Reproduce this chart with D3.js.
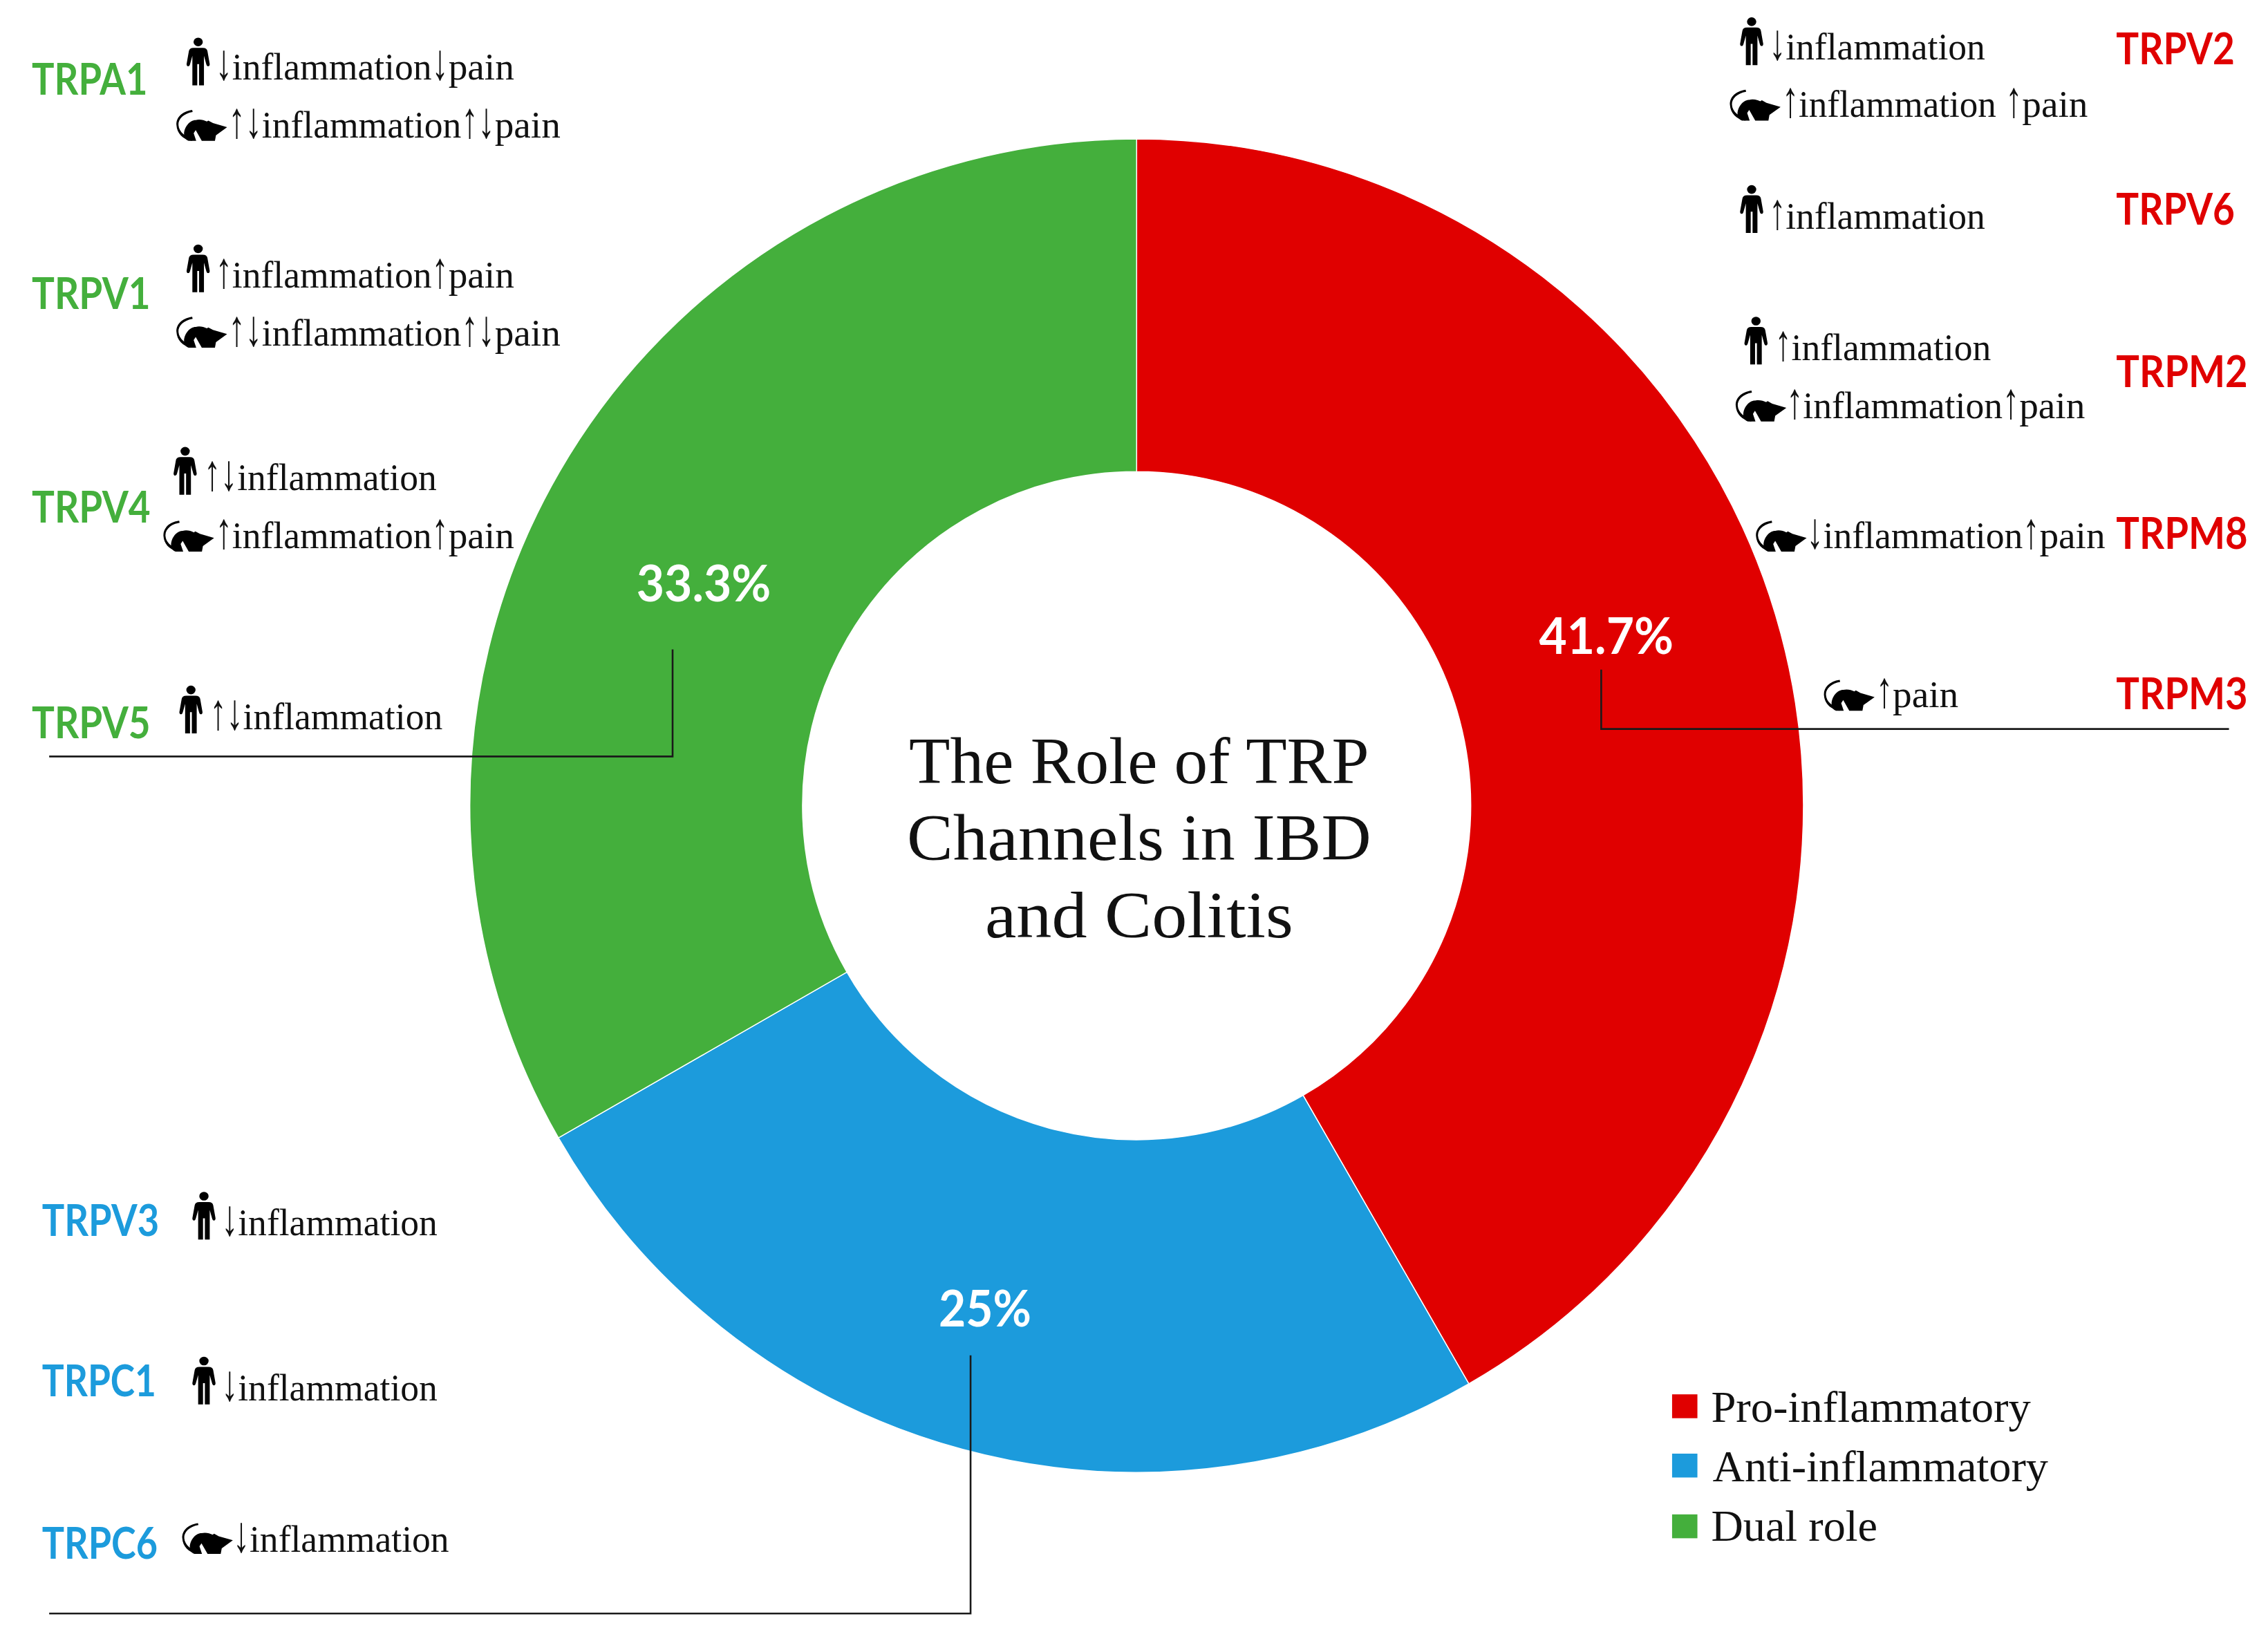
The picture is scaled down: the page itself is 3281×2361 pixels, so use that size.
<!DOCTYPE html>
<html><head><meta charset="utf-8">
<style>html,body{margin:0;padding:0;background:#fff}svg{display:block}</style>
<script src="https://cdnjs.cloudflare.com/ajax/libs/d3/7.8.5/d3.min.js"></script>
</head><body><svg id="c" width="3281" height="2361"></svg>
<script>
// ---- data ----
const categories = ["Pro-inflammatory", "Anti-inflammatory", "Dual role"];
const shares = [41.7, 25, 33.3];
const shareLabels = ["41.7%", "25%", "33.3%"];
const titleLines = ["The Role of TRP", "Channels in IBD", "and Colitis"];
const channels = ["TRPV2","TRPV6","TRPM2","TRPM8","TRPM3","TRPV3","TRPC1","TRPC6","TRPA1","TRPV1","TRPV4","TRPV5"];
const channelGroup = [0,0,0,0,0,1,1,1,2,2,2,2];
const humanEffects = ["↓inflammation","↑inflammation","↑inflammation",null,null,"↓inflammation","↓inflammation",null,"↓inflammation↓pain","↑inflammation↑pain","↑↓inflammation","↑↓inflammation"];
const ratEffects = ["↑inflammation ↑pain",null,"↑inflammation↑pain","↓inflammation↑pain","↑pain",null,null,"↓inflammation","↑↓inflammation↑↓pain","↑↓inflammation↑↓pain","↑inflammation↑pain",null];

// ---- layout (reference units; k converts to page pixels) ----
const k = 2.0925;
const palette = ["#E00000", "#1C9BDC", "#44AF3C"];
const cx = 785.8*k, cy = 557*k, rOuter = 461*k, rInner = 231*k;
const serif = "'Liberation Serif', serif", sans = "Lato, 'Open Sans', sans-serif";
const labelPos = [[1463,44.5,82],[1463,155.5,82],[1463,267.5,91],[1463,379.5,91],[1463,490.5,91],[29,854.5,81],[29,965.5,79],[29,1077.5,80],[22,65.5,80],[22,213.5,82],[22,361.5,82],[22,510.5,82]];
const humanPos = [[1211,12,1223,41],[1211,128,1223,158],[1214,219,1227,249],null,null,[141,824,153,854],[141,938,153,968],null,[137,26,149,55],[137,169,149,199],[128,309,141,339],[132,474,145,504]];
const ratPos = [[1196,62,1232,81],null,[1200,270,1235,289],[1214,360,1249,379],[1261,470,1297,489],null,null,[126,1053,161,1073],[122,76,158,95],[122,219,158,239],[113,360,149,379],null];
const runWidth = {"↑":11.5, "↓":11.5, "inflammation":138, "inflammation ":143, "pain":45.5};
const sharePos = [[1110.5,452,93],[681,917,64],[486.5,416,93]];
const leaders = [[[1107,463],[1107,504],[1541,504]],[[671,937],[671,1115.5],[34,1115.5]],[[465,449],[465,523],[34,523]]];
const titleBase = [[787.5,541.5,318],[787.5,594.5,321],[787.5,648,213]];
const legendPos = [[1156,964,1183,983,221],[1156,1005,1184,1024,232],[1156,1047,1183,1065,115]];

const svg = d3.select("#c");

// donut
const pie = d3.pie().sort(null).value(d => d);
const arc = d3.arc().innerRadius(rInner).outerRadius(rOuter);
const colour = d3.scaleOrdinal().domain(categories).range(palette);
svg.append("g").attr("transform", `translate(${cx},${cy})`)
  .selectAll("path").data(pie(shares)).join("path")
  .attr("d", arc).attr("fill", (d,i) => colour(categories[i]))
  .attr("stroke", "#fff").attr("stroke-width", 1.5);

// leader lines
const line = d3.line().x(d => d[0]*k).y(d => d[1]*k);
svg.append("g").selectAll("path").data(leaders).join("path")
  .attr("d", line).attr("fill","none").attr("stroke","#1a1a1a").attr("stroke-width",2.6);

// share labels
svg.append("g").selectAll("text").data(shareLabels).join("text")
  .text(d => d).attr("x",(d,i)=>sharePos[i][0]*k).attr("y",(d,i)=>sharePos[i][1]*k)
  .attr("text-anchor","middle").attr("font-family",sans).attr("font-weight",700)
  .attr("font-size",72).attr("fill","#fff")
  .attr("textLength",(d,i)=>sharePos[i][2]*k).attr("lengthAdjust","spacingAndGlyphs");

// title
svg.append("g").selectAll("text").data(titleLines).join("text")
  .text(d => d).attr("x",(d,i)=>titleBase[i][0]*k).attr("y",(d,i)=>titleBase[i][1]*k)
  .attr("text-anchor","middle").attr("font-family",serif).attr("font-size",96).attr("fill","#111")
  .attr("textLength",(d,i)=>titleBase[i][2]*k).attr("lengthAdjust","spacingAndGlyphs");

// channel labels
svg.append("g").selectAll("text").data(channels).join("text")
  .text(d => d).attr("x",(d,i)=>labelPos[i][0]*k).attr("y",(d,i)=>labelPos[i][1]*k)
  .attr("font-family",sans).attr("font-weight",700).attr("font-size",64)
  .attr("fill",(d,i)=>palette[channelGroup[i]])
  .attr("textLength",(d,i)=>labelPos[i][2]*k).attr("lengthAdjust","spacingAndGlyphs");

// icons
function person(g, cxv, top){
  const sy = 33*k/220, sx = 0.335;
  const p = g.append("g").attr("transform",`translate(${cxv*k-50*sx},${top*k}) scale(${sx},${sy})`).attr("fill","#000");
  p.append("circle").attr("cx",50).attr("cy",20).attr("r",20);
  p.append("path").attr("d","M30 47 H70 Q88 47 90 62 L100 122 Q100 132 93 132 Q87 132 85 122 L75 84 V220 H54 V122 H46 V220 H25 V84 L15 122 Q13 132 7 132 Q0 132 0 122 L10 62 Q12 47 30 47Z");
}
function rat(g, left, top){
  const s = 35*k/100;
  const p = g.append("g").attr("transform",`translate(${left*k},${top*k}) scale(${s})`).attr("fill","#000");
  p.append("path").attr("d","M31 0 C10 3 -1 16 0 30 C1 46 12 58 30 61 L36 57 C18 54 5 44 4 30 C3 18 14 7 32 4Z");
  p.append("path").attr("d","M15 48 C15 34 26 20 38 20 C46 18 54 20 60 23 L63 21 L72 26 L100 34 L78 50 L76 61 H50 L38 40 L34 46 L39 61 H24 C17 58 15 54 15 48Z");
}
function note(g, str, pos){
  // each arrow or word is a run fitted to its width in the reference; arrows are tall and thin
  let cursor = pos[2];
  str.split(/([↑↓])/).filter(s=>s).forEach(run=>{
    const t = g.append("text").text(run)
      .attr("font-family",serif).attr("fill","#111").attr("xml:space","preserve")
      .style("white-space","pre")
      .attr("font-size",/[↑↓]/.test(run) ? 74 : 54);
    const sx = runWidth[run]*k / t.node().getComputedTextLength();
    t.attr("transform",`translate(${cursor*k},${pos[3]*k}) scale(${sx},1)`);
    cursor += runWidth[run];
  });
}
const notes = svg.append("g");
channels.forEach((c,i)=>{
  if (humanEffects[i]) { person(notes, humanPos[i][0], humanPos[i][1]); note(notes, humanEffects[i], humanPos[i]); }
  if (ratEffects[i]) { rat(notes, ratPos[i][0], ratPos[i][1]); note(notes, ratEffects[i], ratPos[i]); }
});

// legend
const lg = svg.append("g");
lg.selectAll("rect").data(categories).join("rect")
  .attr("x",(d,i)=>legendPos[i][0]*k).attr("y",(d,i)=>legendPos[i][1]*k)
  .attr("width",17.5*k).attr("height",16.5*k).attr("fill",d=>colour(d));
lg.selectAll("text").data(categories).join("text")
  .text(d=>d).attr("x",(d,i)=>legendPos[i][2]*k).attr("y",(d,i)=>legendPos[i][3]*k)
  .attr("font-family",serif).attr("font-size",64).attr("fill","#111")
  .attr("textLength",(d,i)=>legendPos[i][4]*k).attr("lengthAdjust","spacingAndGlyphs");
</script></body></html>
